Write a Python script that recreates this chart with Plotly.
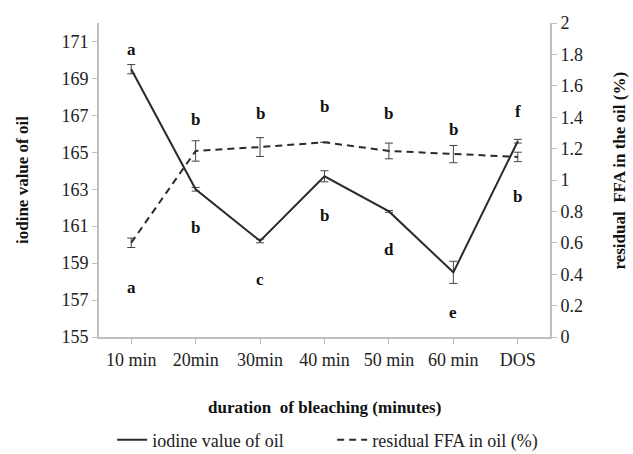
import plotly.graph_objects as go

categories = ["10 min", "20min", "30min", "40 min", "50 min", "60 min", "DOS"]
iodine = [169.5, 163.0, 160.2, 163.7, 161.8, 158.5, 165.6]
iodine_err = [0.25, 0.1, 0.1, 0.3, 0.05, 0.6, 0.1]
ffa = [0.60, 1.185, 1.21, 1.24, 1.185, 1.165, 1.147]
ffa_err = [0.03, 0.065, 0.06, 0.0, 0.05, 0.055, 0.03]

letters_top = ["a", "b", "b", "b", "b", "b", "f"]
letters_top_y = [170.55, 166.76, 167.1, 167.48, 167.1, 166.25, 167.2]
letters_bot = ["a", "b", "c", "b", "d", "e", "b"]
letters_bot_y = [157.7, 160.94, 158.1, 161.6, 159.75, 156.3, 162.6]

FONT = "Liberation Serif, Times New Roman, Times, serif"
LINE = "#2b2b2b"
AX = "#bfbfbf"

fig = go.Figure()
fig.add_trace(go.Scatter(
    x=categories, y=iodine, mode="lines", name="iodine value of oil",
    line=dict(color=LINE, width=2),
    error_y=dict(type="data", array=iodine_err, color="#444444", thickness=1, width=4),
    yaxis="y"))
fig.add_trace(go.Scatter(
    x=categories, y=ffa, mode="lines", name="residual FFA in oil (%)",
    line=dict(color=LINE, width=2, dash="7px,5px"),
    error_y=dict(type="data", array=ffa_err, color="#444444", thickness=1, width=4),
    yaxis="y2"))

for c, t, y in zip(categories, letters_top, letters_top_y):
    fig.add_annotation(x=c, y=y, text=f"<b>{t}</b>", showarrow=False, xref="x", yref="y",
                       xanchor="center", yanchor="middle",
                       font=dict(family=FONT, size=17, color="#111"))
for c, t, y in zip(categories, letters_bot, letters_bot_y):
    fig.add_annotation(x=c, y=y, text=f"<b>{t}</b>", showarrow=False, xref="x", yref="y",
                       xanchor="center", yanchor="middle",
                       font=dict(family=FONT, size=17, color="#111"))

fig.add_annotation(x=0.5, y=-0.223, xref="paper", yref="paper", showarrow=False,
                   xanchor="center", yanchor="middle",
                   text="<b>duration  of bleaching (minutes)</b>",
                   font=dict(family=FONT, size=17, color="#111"))
fig.add_annotation(x=0, y=0.5, xref="paper", yref="paper", xshift=-77, showarrow=False,
                   xanchor="center", yanchor="middle",
                   text="<b>iodine value of oil</b>", textangle=-90,
                   font=dict(family=FONT, size=17, color="#111"))
fig.add_annotation(x=1, y=0.53, xref="paper", yref="paper", xshift=70, showarrow=False,
                   xanchor="center", yanchor="middle",
                   text="<b>residual  FFA in the oil (%)</b>", textangle=-90,
                   font=dict(family=FONT, size=17, color="#111"))

fig.update_layout(
    width=633, height=454,
    margin=dict(l=99, r=83, t=23, b=117, autoexpand=False),
    paper_bgcolor="white", plot_bgcolor="white",
    font=dict(family=FONT, size=18, color="#222"),
    showlegend=True,
    legend=dict(orientation="h", x=0.517, xanchor="center", y=-0.328, yanchor="middle",
                font=dict(family=FONT, size=18, color="#222"), entrywidth=175,
                tracegroupgap=0),
    xaxis=dict(type="category", range=[-0.5, 6.5], showgrid=False, showline=True,
               linecolor=AX, linewidth=2, ticks="outside", tickcolor=AX, ticklen=5,
               tickfont=dict(family=FONT, size=18)),
    yaxis=dict(range=[155, 172], tickvals=list(range(155, 172, 2)), showgrid=False,
               showline=True, linecolor=AX, linewidth=2, ticks="outside", tickcolor=AX,
               ticklen=5, tickfont=dict(family=FONT, size=18), zeroline=False),
    yaxis2=dict(range=[0, 2], dtick=0.2, overlaying="y", side="right", showgrid=False,
                showline=True, linecolor=AX, linewidth=2, ticks="outside", tickcolor=AX,
                ticklen=5, tickfont=dict(family=FONT, size=18), zeroline=False),
)

fig.write_html("out.html")
